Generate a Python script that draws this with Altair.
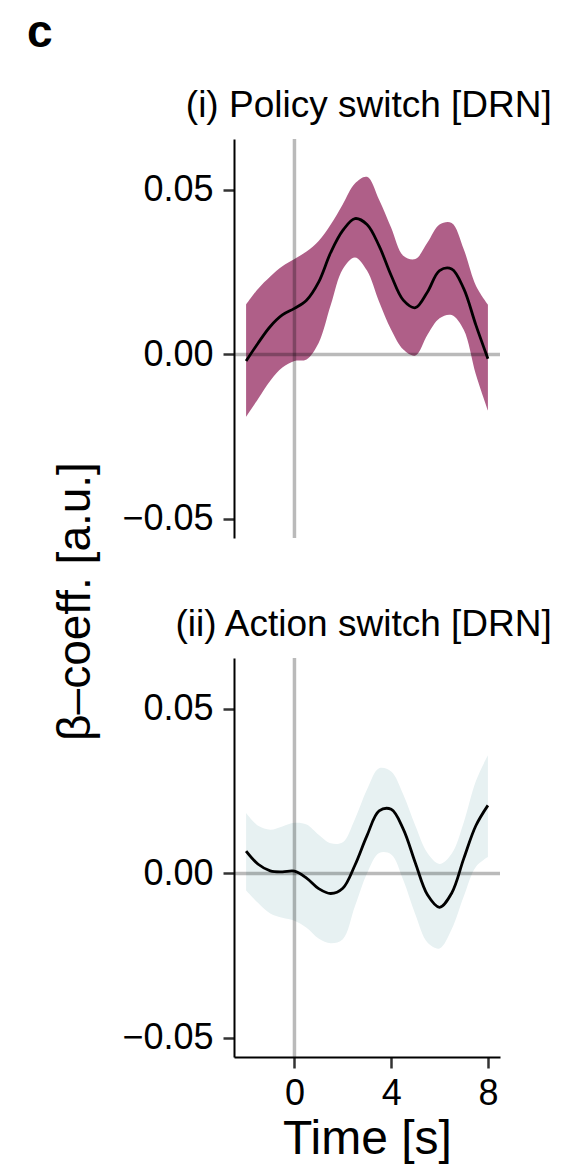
import altair as alt
import pandas as pd

# time grid [s]
t = [-2, -1.5, -1, -0.5, 0, 0.5, 1, 1.5, 2, 2.5, 3, 3.5, 4, 4.5, 5, 5.5, 6, 6.5, 7, 7.5, 8]

# (i) Policy switch [DRN]
policy_mean = [-0.002, 0.0035, 0.0085, 0.012, 0.014, 0.0165, 0.022, 0.031, 0.0377, 0.0413, 0.0395,
               0.033, 0.024, 0.0165, 0.0142, 0.019, 0.0255, 0.026, 0.020, 0.009, -0.0013]
policy_lo = [-0.019, -0.0135, -0.008, -0.004, -0.002, -0.0015, 0.0035, 0.015, 0.026, 0.0295, 0.0255,
             0.016, 0.0075, 0.0015, -0.0003, 0.006, 0.011, 0.012, 0.0075, -0.006, -0.017]
policy_hi = [0.0152, 0.020, 0.0237, 0.0268, 0.029, 0.0313, 0.0345, 0.0395, 0.0457, 0.052, 0.054,
             0.047, 0.0385, 0.030, 0.029, 0.034, 0.0395, 0.040, 0.032, 0.021, 0.0152]

# (ii) Action switch [DRN]
action_mean = [0.0068, 0.0028, 0.0008, 0.0005, 0.0007, -0.0014, -0.0046, -0.0061, -0.0045, 0.0025, 0.0115,
               0.019, 0.0195, 0.0135, 0.0032, -0.0065, -0.0103, -0.006, 0.0045, 0.0145, 0.0207]
action_lo = [-0.0052, -0.009, -0.0122, -0.0135, -0.0144, -0.0165, -0.0198, -0.0212, -0.020, -0.010, 0.0,
             0.0062, 0.0058, -0.002, -0.0125, -0.021, -0.0228, -0.017, -0.007, 0.002, 0.005]
action_hi = [0.0184, 0.0145, 0.0133, 0.0143, 0.0154, 0.0149, 0.0118, 0.0092, 0.0095, 0.0165, 0.0255,
             0.032, 0.031, 0.024, 0.0145, 0.0062, 0.0029, 0.006, 0.0155, 0.028, 0.0359]

y_ticks = [-0.05, 0.0, 0.05]
x_ticks = [0, 4, 8]

FONT = "Liberation Sans"
W, H = 266, 399

xscale = alt.Scale(domain=[-2.5, 8.5], nice=False, zero=False)
yscale = alt.Scale(domain=[-0.0558, 0.0655], nice=False, zero=False)

ref_df = pd.DataFrame({"v": [0]})


def panel(mean, lo, hi, color, title, show_x, show_ytitle):
    df = pd.DataFrame({"t": t, "mean": mean, "lo": lo, "hi": hi})
    base = alt.Chart(df)
    if show_x:
        xaxis = alt.Axis(values=x_ticks, title="Time [s]", titleFontSize=48, titleFontWeight="normal",
                         titlePadding=4, labelPadding=8)
    else:
        xaxis = None
    yaxis_kw = dict(values=y_ticks, format=".2f", labelPadding=10)
    if show_ytitle:
        yaxis_kw.update(title="β–coeff. [a.u.]", titleFontSize=46, titleFontWeight="normal",
                        titleAngle=270, titleX=-159, titleY=462, titleAlign="center",
                        titleBaseline="middle")
    else:
        yaxis_kw.update(title=None)
    x = alt.X("t:Q", scale=xscale, axis=xaxis)
    band = base.mark_area(color=color, opacity=1, interpolate="catmull-rom").encode(
        x=x, y=alt.Y("lo:Q", scale=yscale, axis=alt.Axis(**yaxis_kw)), y2="hi:Q")
    vrule = alt.Chart(ref_df).mark_rule(color="black", opacity=0.27, strokeWidth=3.5).encode(
        x=alt.X("v:Q", scale=xscale))
    hrule = alt.Chart(ref_df).mark_rule(color="black", opacity=0.27, strokeWidth=3.5).encode(
        y=alt.Y("v:Q", scale=yscale))
    line = base.mark_line(color="black", strokeWidth=2.8, interpolate="catmull-rom").encode(
        x="t:Q", y="mean:Q")
    return alt.layer(band, vrule, hrule, line).properties(
        width=W, height=H,
        title=alt.TitleParams(title, anchor="end", fontSize=37, fontWeight="normal", font=FONT,
                              color="black", dx=50, offset=12))


top = panel(policy_mean, policy_lo, policy_hi, "#af5f88", "(i) Policy switch [DRN]", False, True)
bottom = panel(action_mean, action_lo, action_hi, "#e7f1f2", "(ii) Action switch [DRN]", True, False)

chart = alt.vconcat(top, bottom, spacing=120, bounds="flush").properties(
    title=alt.TitleParams("c", anchor="start", fontSize=46, fontWeight="bold", font=FONT,
                          color="black", dx=-207, offset=30, frame="group"),
    padding={"left": 27, "top": 10, "right": 5, "bottom": 5},
).configure_view(stroke=None).configure_axis(
    domainColor="black", domainWidth=2, tickColor="#333333", tickWidth=2.5, tickSize=11,
    labelFontSize=36, labelColor="black", labelFont=FONT, titleFont=FONT, titleColor="black",
    grid=False
)

chart.save("out.html", embed_options={"renderer": "svg", "actions": False})
